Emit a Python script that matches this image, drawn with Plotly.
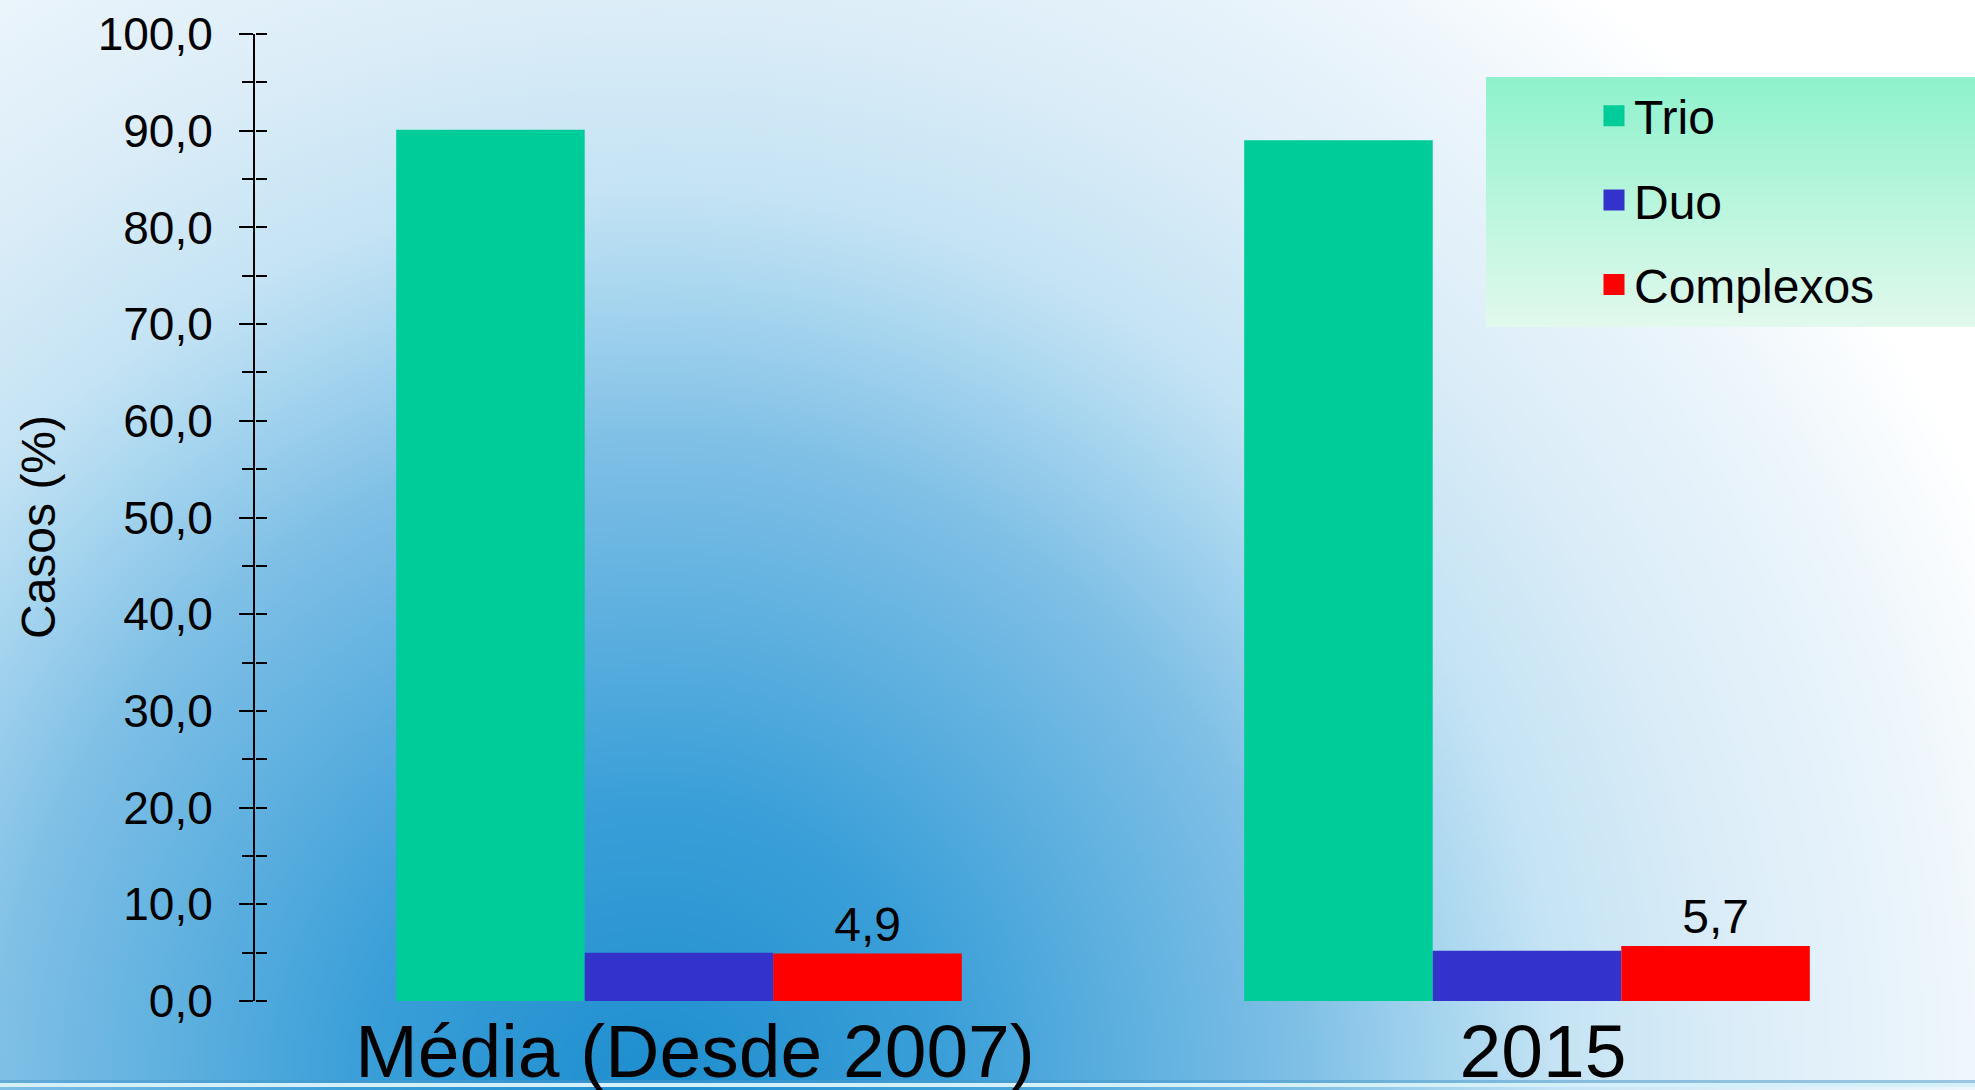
import base64
import struct
import zlib
import numpy as np
import plotly.graph_objects as go

categories = ["Média (Desde 2007)", "2015"]
trio = [90.1, 89.0]
duo = [5.0, 5.2]
complexos = [4.9, 5.7]
series_names = ["Trio", "Duo", "Complexos"]
series_colors = ["#00CC99", "#3333CC", "#FF0000"]
y_title = "Casos (%)"

W, H = 1975, 1090
ML, MR, MT, MB = 255, 24, 34, 89
PW, PH = W - ML - MR, H - MT - MB

FONT = "Liberation Sans, Arial, sans-serif"


def px(x):
    return (x - ML) / PW


def py(y):
    return 1 - (y - MT) / PH


def hex2rgb(h):
    h = h.lstrip("#")
    return [int(h[i:i + 2], 16) for i in (0, 2, 4)]


def png_uri(arr):
    arr = np.ascontiguousarray(arr.astype(np.uint8))
    h, w, _ = arr.shape
    raw = b"".join(b"\x00" + arr[i].tobytes() for i in range(h))

    def chunk(tag, data):
        c = struct.pack(">I", len(data)) + tag + data
        return c + struct.pack(">I", zlib.crc32(tag + data) & 0xffffffff)

    png = b"\x89PNG\r\n\x1a\n" + chunk(b"IHDR", struct.pack(">IIBBBBB", w, h, 8, 2, 0, 0, 0))
    png += chunk(b"IDAT", zlib.compress(raw, 9)) + chunk(b"IEND", b"")
    return "data:image/png;base64," + base64.b64encode(png).decode()


# background: radial gradient (slide decoration)
stops = [(0.0, "#1e8ecf"), (0.2, "#3a9fd8"), (0.45, "#80c0e6"), (0.55, "#a8d6ef"),
         (0.62, "#c4e3f4"), (0.75, "#dcedf8"), (0.87, "#eaf4fb"), (1.0, "#ffffff")]
sc = 4
gw, gh = W // sc, H // sc + 1
yy, xx = np.mgrid[0:gh, 0:gw]
d = np.sqrt((xx * sc - 650.0) ** 2 + (yy * sc - 1090.0) ** 2) / 1450.0
d = np.clip(d, 0, 1)
offs = [s[0] for s in stops]
cols = np.array([hex2rgb(s[1]) for s in stops], dtype=float)
bg = np.stack([np.interp(d, offs, cols[:, k]) for k in range(3)], axis=-1)
bg_src = png_uri(np.round(bg))

lg_top, lg_bot = np.array(hex2rgb("#8ff2cc"), float), np.array(hex2rgb("#e2f9ee"), float)
t = np.linspace(0, 1, 64)[:, None]
lg = (lg_top * (1 - t) + lg_bot * t)[:, None, :].repeat(4, axis=1)
lg_src = png_uri(np.round(lg))

fig = go.Figure()
for name, vals, col in zip(series_names, [trio, duo, complexos], series_colors):
    is_c = name == "Complexos"
    fig.add_trace(go.Bar(
        x=categories, y=vals, name=name, marker=dict(color=col, line=dict(width=0)),
        showlegend=False,
        texttemplate="%{y:.1f}" if is_c else None,
        textposition="outside" if is_c else "none",
        textfont=dict(size=48, color="black", family=FONT),
        cliponaxis=False,
    ))
for i, (name, col) in enumerate(zip(series_names, series_colors)):
    fig.add_trace(go.Scatter(
        x=[None], y=[None], mode="markers", name=name, legendgroup=f"g{i}",
        marker=dict(symbol="square", size=16, color=col, line=dict(color=col, width=5)),
    ))
# invisible helper trace so the overlay axis (inner half of the crossing ticks) is drawn
fig.add_trace(go.Scatter(x=categories, y=trio, yaxis="y2", mode="none",
                         showlegend=False, hoverinfo="skip"))

fig.update_layout(
    width=W, height=H,
    margin=dict(l=ML, r=MR, t=MT, b=MB, autoexpand=False),
    paper_bgcolor="white", plot_bgcolor="rgba(0,0,0,0)",
    separators=",.",
    font=dict(family=FONT, color="black", size=46),
    barmode="group", bargap=0.333, bargroupgap=0,
    showlegend=True,
    legend=dict(
        x=px(1594), xanchor="left", y=py(78), yanchor="top",
        bgcolor="rgba(0,0,0,0)", font=dict(size=48, family=FONT, color="black"),
        tracegroupgap=19, itemwidth=30,
    ),
    xaxis=dict(
        range=[-0.5, 1.5], showline=False, ticks="", showgrid=False, zeroline=False,
        tickfont=dict(size=75, family=FONT, color="black"),
        ticklabelshift=16,
    ),
    yaxis=dict(
        range=[0, 100], dtick=10, tick0=0, tickformat=".1f",
        showline=True, linecolor="black", linewidth=2,
        ticks="outside", ticklen=14, tickwidth=2, tickcolor="black",
        minor=dict(dtick=5, ticks="outside", ticklen=11, tickwidth=2, tickcolor="black"),
        showgrid=False, zeroline=False,
        tickfont=dict(size=46, family=FONT, color="black"),
        ticklabelstandoff=17,
    ),
    yaxis2=dict(
        overlaying="y", anchor="free", position=0, side="right", range=[0, 100],
        dtick=10, tick0=0,
        ticks="outside", ticklen=11, tickwidth=2, tickcolor="black",
        minor=dict(dtick=5, ticks="outside", ticklen=11, tickwidth=2, tickcolor="black"),
        showticklabels=False, showgrid=False, zeroline=False, showline=False,
    ),
    images=[
        dict(source=bg_src, xref="paper", yref="paper",
             x=px(0), y=py(0), sizex=W / PW, sizey=H / PH,
             xanchor="left", yanchor="top", sizing="stretch", layer="below"),
        dict(source=lg_src, xref="paper", yref="paper",
             x=px(1486), y=py(77), sizex=(W - 1486) / PW, sizey=250 / PH,
             xanchor="left", yanchor="top", sizing="stretch", layer="below"),
    ],
    shapes=[
        dict(type="rect", xref="paper", yref="paper", x0=px(0), x1=px(W), y0=py(1083), y1=py(1080),
             fillcolor="rgba(70,150,200,0.5)", line=dict(width=0), layer="below"),
        dict(type="rect", xref="paper", yref="paper", x0=px(0), x1=px(W), y0=py(1087), y1=py(1083),
             fillcolor="#d4f0fa", line=dict(width=0), layer="below"),
    ],
    annotations=[dict(
        text=y_title, textangle=-90, xref="paper", yref="paper",
        x=px(38), y=py(527), xanchor="center", yanchor="middle",
        showarrow=False, font=dict(size=48, family=FONT, color="black"),
    )],
)

fig.write_html("out.html", config={"displayModeBar": False},
               post_script="document.body.style.margin='0';document.body.style.overflow='hidden';")
